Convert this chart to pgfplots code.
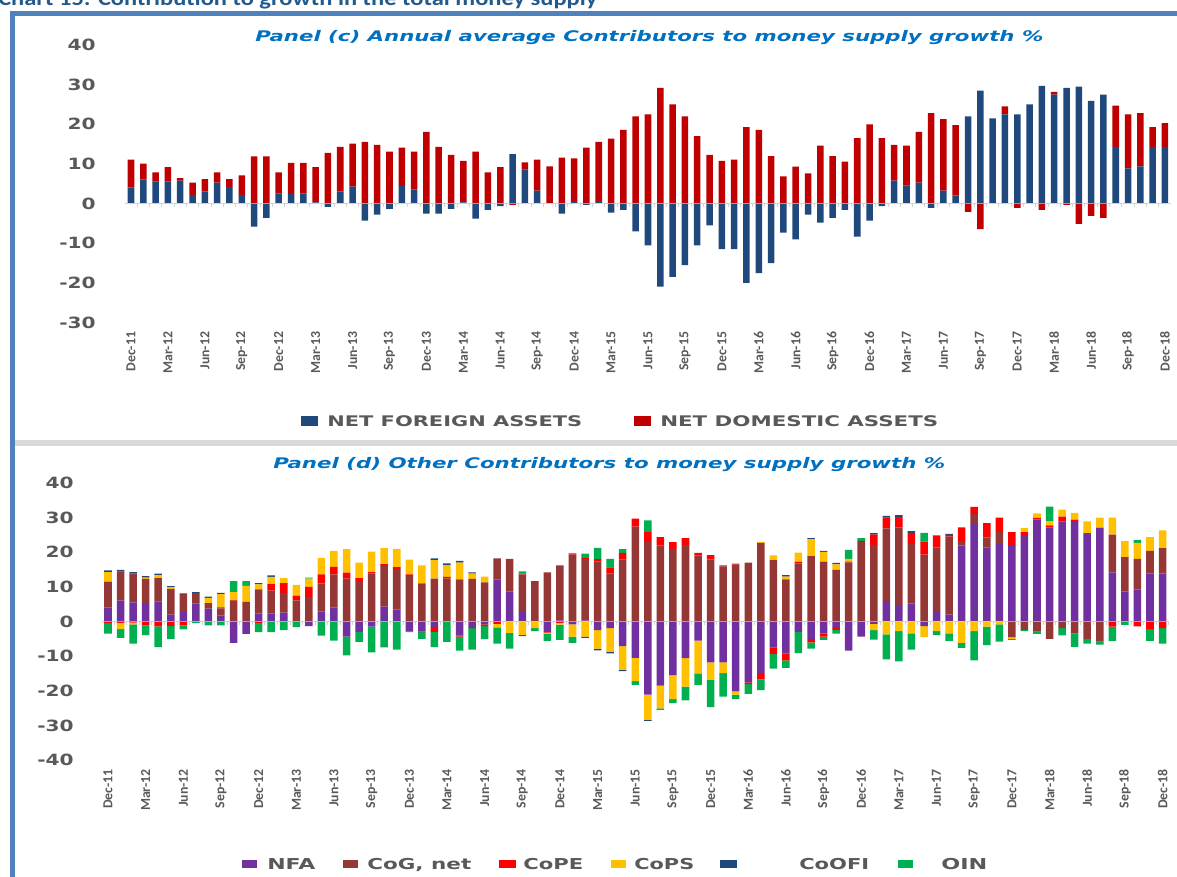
\documentclass[border=0pt]{standalone}
\usepackage{fontspec}
\usepackage{graphicx}
\usepackage{pgfplots}
\pgfplotsset{compat=1.18}
\usepackage{pgfplotstable}
\newfontfamily\dvb{DejaVu Sans}[BoldFont={DejaVu Sans Bold},ItalicFont={DejaVu Sans Oblique},BoldItalicFont={DejaVu Sans Bold Oblique}]
\newfontfamily\crl{Carlito}[BoldFont={Carlito Bold}]
\newlength\px \setlength\px{0.25mm}
\definecolor{cNFA}{RGB}{31,73,125}
\definecolor{cNDA}{RGB}{192,0,0}
\definecolor{dNFA}{RGB}{112,48,160}
\definecolor{dCoG}{RGB}{149,55,53}
\definecolor{dCoPE}{RGB}{255,0,0}
\definecolor{dCoPS}{RGB}{255,192,0}
\definecolor{dCoOFI}{RGB}{31,73,125}
\definecolor{dOIN}{RGB}{0,176,80}
\definecolor{tgray}{RGB}{89,89,89}
\definecolor{ttl}{RGB}{0,112,192}
\definecolor{frameblue}{RGB}{79,129,189}
\definecolor{sepgray}{RGB}{217,217,217}
\definecolor{zlgray}{RGB}{210,210,210}
\definecolor{chartttl}{RGB}{35,90,140}

\pgfplotstableread{
i nfa nda
0 4.1 7.0
1 6.1 4.0
2 5.6 2.3
3 5.6 3.6
4 5.8 0.6
5 2.2 3.1
6 3.1 3.1
7 5.3 2.6
8 4.2 2.0
9 2.2 4.9
10 -5.8 11.9
11 -3.6 11.9
12 2.6 5.3
13 2.4 7.9
14 2.6 7.7
15 0.3 8.9
16 -0.8 12.8
17 3.1 11.2
18 4.3 10.8
19 -4.3 15.6
20 -2.8 14.8
21 -1.3 13.1
22 4.5 9.6
23 3.6 9.5
24 -2.5 18.1
25 -2.5 14.3
26 -1.3 12.3
27 0.3 10.5
28 -3.8 13.1
29 -1.6 7.9
30 -0.6 9.2
31 12.5 -0.3
32 8.6 1.8
33 3.3 7.8
34 0 9.4
35 -2.5 11.6
36 0.6 10.8
37 -0.3 14.1
38 0.6 15.0
39 -2.3 16.4
40 -1.6 18.6
41 -7.0 22.0
42 -10.5 22.5
43 -20.9 29.2
44 -18.5 25.0
45 -15.5 22.0
46 -10.5 17.0
47 -5.5 12.3
48 -11.5 10.8
49 -11.5 11.1
50 -20.0 19.3
51 -17.5 18.6
52 -15.0 12.0
53 -7.3 6.9
54 -9.0 9.3
55 -2.8 7.6
56 -4.8 14.6
57 -3.6 12.0
58 -1.6 10.6
59 -8.3 16.5
60 -4.3 20.0
61 -0.6 16.5
62 5.8 9.0
63 4.6 10.0
64 5.3 12.8
65 -1.1 22.8
66 3.3 18.0
67 2.1 17.7
68 22.0 -2.1
69 28.5 -6.4
70 21.5 0
71 22.5 2.0
72 22.5 -1.1
73 25.0 0
74 29.7 -1.6
75 27.5 0.7
76 29.2 -0.3
77 29.5 -5.1
78 25.9 -3.1
79 27.5 -3.6
80 14.3 10.4
81 8.9 13.6
82 9.4 13.4
83 14.3 5.0
84 14.3 6.0
}\tabc

\pgfplotstableread{
i nfa cog cope cops coofi oin
0 4.0 7.5 -0.5 2.8 0.5 -3.0
1 6.0 8.4 -0.4 -1.8 0.5 -2.5
2 5.5 8.4 -0.3 -0.5 0.4 -5.6
3 5.4 6.9 -1.1 0.4 0.4 -2.8
4 5.8 6.7 -1.4 0.9 0.4 -6.0
5 2.0 7.4 -1.3 0.5 0.3 -3.8
6 2.8 5.1 -1.1 0 0.2 -1.2
7 5.2 3.0 0 0 0.3 -0.5
8 3.7 1.6 0 1.5 0.4 -1.1
9 1.7 2.1 0.3 3.8 0.4 -1.1
10 -6.2 6.0 0.2 2.3 0 3.2
11 -3.6 5.7 0 4.6 0 1.4
12 2.3 7.0 -0.4 1.4 0.4 -2.7
13 2.3 6.6 1.9 2.1 0.4 -3.1
14 2.6 5.7 2.8 1.4 0 -2.5
15 0.2 5.9 1.4 3.1 0 -1.6
16 -1.3 7.1 2.9 2.4 0 0.3
17 2.9 8.1 2.6 4.8 0 -4.1
18 4.1 9.5 2.2 4.6 0 -5.5
19 -4.4 12.4 1.7 6.8 0 -5.4
20 -3.1 11.7 0.8 4.5 0 -2.8
21 -1.5 13.9 0.4 5.9 0 -7.4
22 4.3 11.8 0.5 4.6 0 -7.5
23 3.5 11.6 0.6 5.3 0 -8.1
24 -2.9 13.2 0.4 4.3 0 -0.2
25 -2.9 11.0 -0.2 5.2 0 -1.9
26 -1.6 12.4 -1.4 5.3 0.5 -4.4
27 0 12.4 0.5 3.4 0.5 -5.9
28 -4.1 12.2 -0.3 4.8 0.5 -4.0
29 -1.6 12.3 -0.3 1.5 0.4 -6.2
30 -0.8 11.3 -0.5 1.7 0 -3.8
31 12.2 6.0 -0.7 -1.0 0 -4.7
32 8.6 9.5 0 -3.3 0 -4.5
33 3.1 10.5 0.2 -3.9 -0.3 0.7
34 0 11.7 0 -1.9 0 -0.9
35 -3.0 14.2 -0.2 -0.4 0 -2.0
36 0.3 15.9 -0.4 -0.5 0 -4.4
37 -0.8 19.3 0.4 -3.6 0 -1.8
38 0.3 17.8 0.3 -4.4 -0.3 1.2
39 -2.5 17.3 0.7 -5.3 -0.5 3.3
40 -1.9 13.8 1.8 -6.8 -0.5 2.5
41 -7.1 17.9 1.9 -6.9 -0.3 1.1
42 -10.5 27.4 2.3 -6.7 0 -1.1
43 -21.1 23.0 2.8 -7.3 -0.3 3.4
44 -18.5 21.9 2.5 -6.6 0 -0.4
45 -15.5 21.0 1.9 -6.9 0 -1.2
46 -10.6 22.1 2.0 -8.2 0 -4.0
47 -5.5 19.0 0.8 -9.5 0 -3.3
48 -11.8 17.9 1.3 -5.0 0 -7.9
49 -11.8 15.9 0.3 -3.1 0 -6.8
50 -20.2 16.4 0.3 -0.9 0 -1.3
51 -17.6 17.0 -0.5 0 0 -2.8
52 -15.1 22.7 -1.6 0.3 0 -3.1
53 -7.5 17.7 -1.9 1.4 0 -4.2
54 -9.2 12.2 -2.0 0.8 0.4 -2.2
55 -3.1 16.7 0.6 2.6 0 -6.0
56 -5.0 18.9 -1.0 4.9 0.3 -1.8
57 -3.5 17.3 -0.9 2.8 0.3 -0.9
58 -1.6 14.9 -0.8 1.6 0.4 -1.1
59 -8.4 17.1 0.2 0.8 0 2.6
60 -4.4 23.0 0.3 0 0 0.8
61 -0.7 22.1 3.0 -1.8 0.4 -2.7
62 5.7 21.2 3.1 -3.7 0.5 -7.2
63 4.5 22.7 3.0 -2.8 0.5 -8.7
64 5.2 17.2 3.2 -3.4 0.5 -4.7
65 -1.3 19.3 3.8 -3.2 0 2.5
66 3.1 18.3 3.5 -2.8 0 -1.1
67 2.0 22.5 0.5 -3.4 0.3 -2.2
68 21.9 1.3 4.0 -6.2 0 -1.4
69 28.4 2.6 2.1 -2.8 0 -8.4
70 21.4 2.9 4.1 -1.5 0 -5.3
71 22.4 3.5 4.1 -0.8 0 -5.0
72 22.1 -4.6 3.7 -0.4 0 -0.3
73 24.7 -2.4 1.1 1.2 0 -0.4
74 29.5 -2.9 0.4 1.3 0 -0.7
75 27.2 -5.0 0.6 1.2 0 4.2
76 28.9 -1.9 1.4 2.0 0 -2.1
77 29.1 -3.4 0.3 2.0 0 -3.9
78 25.5 -5.0 0 3.4 0 -1.4
79 27.1 -5.8 0 2.9 0 -0.9
80 14.2 10.9 -1.5 4.9 0 -4.1
81 8.6 10.0 0 4.6 0 -1.0
82 9.2 8.9 -1.4 4.6 0 0.9
83 13.9 6.5 -2.2 4.0 0 -3.4
84 13.9 7.3 -1.9 5.1 0 -4.5
}\tabd

\tikzset{
  zline/.style={draw=zlgray, line width=0.375mm},
  ztick/.style={draw=zlgray, line width=0.25mm},
}
\pgfplotsset{
  base/.style={scale only axis, anchor=north west, xmin=-0.5, xmax=84.5, ybar stacked,
    axis line style={draw=none}, tick style={draw=none}, major tick length=0pt},
  ylab/.style={ytick={-40,-30,...,40},
    yticklabels={-40,-30,-20,-10,0,10,20,30,40},
    yticklabel style={font=\dvb\bfseries\fontsize{11}{13}\selectfont, text=tgray, inner sep=0pt, xshift=#1, xscale=1.3, anchor=east}},
  xlab/.style={xtick={0,3,...,84},
    xticklabels={Dec-11,Mar-12,Jun-12,Sep-12,Dec-12,Mar-13,Jun-13,Sep-13,Dec-13,Mar-14,Jun-14,Sep-14,Dec-14,Mar-15,Jun-15,Sep-15,Dec-15,Mar-16,Jun-16,Sep-16,Dec-16,Mar-17,Jun-17,Sep-17,Dec-17,Mar-18,Jun-18,Sep-18,Dec-18},
    xticklabel style={font=\crl\bfseries\fontsize{9.8}{12}\selectfont, text=tgray, inner sep=0pt, yshift=#1, rotate=90, anchor=east}},
  panc/.style={base, at={(31.21mm,-11.25mm)}, width=261.57mm, height=69.4mm, ymin=-30, ymax=40, bar width=1.63mm},
  pand/.style={base, at={(25.43mm,-120.75mm)}, width=266.77mm, height=69.25mm, ymin=-40, ymax=40, bar width=1.88mm},
}

\begin{document}
\begin{tikzpicture}
\begin{scope}[x=0.25mm,y=-0.25mm]
  \draw[frameblue, line width=1.25mm] (1190,14) -- (12.5,14) -- (12.5,890);
  \fill[sepgray] (15,440) rectangle (1177,446);
  \node[anchor=base west, inner sep=0pt, text=chartttl] at (-2,5.5)
    {\resizebox{599\px}{\height}{\crl\bfseries\fontsize{15}{18}\selectfont Chart 15: Contribution to growth in the total money supply}};
\end{scope}

% Panel (c) positive parts
\begin{axis}[panc, ylab={-7.21mm}, xlab={-2.25mm}]
  \addplot[fill=cNFA, draw=none] table[x=i, y expr={max(\thisrow{nfa},0)}] {\tabc};
  \addplot[fill=cNDA, draw=none] table[x=i, y expr={max(\thisrow{nda},0)}] {\tabc};
\end{axis}
% Panel (c) negative parts
\begin{axis}[panc, hide axis]
  \addplot[fill=cNFA, draw=none] table[x=i, y expr={min(\thisrow{nfa},0)}] {\tabc};
  \addplot[fill=cNDA, draw=none] table[x=i, y expr={min(\thisrow{nda},0)}] {\tabc};
  \draw[zline] (axis cs:-0.5,0) -- (axis cs:84.5,0);
  \pgfplotsinvokeforeach{0,...,85}{\draw[ztick] (axis cs:#1-0.5,0) -- (axis cs:#1-0.5,-0.75);}
\end{axis}

% Panel (d) positive parts
\begin{axis}[pand, ylab={-6.93mm}, xlab={-2.25mm}]
  \addplot[fill=dNFA, draw=none] table[x=i, y expr={max(\thisrow{nfa},0)}] {\tabd};
  \addplot[fill=dCoG, draw=none] table[x=i, y expr={max(\thisrow{cog},0)}] {\tabd};
  \addplot[fill=dCoPE, draw=none] table[x=i, y expr={max(\thisrow{cope},0)}] {\tabd};
  \addplot[fill=dCoPS, draw=none] table[x=i, y expr={max(\thisrow{cops},0)}] {\tabd};
  \addplot[fill=dCoOFI, draw=none] table[x=i, y expr={max(\thisrow{coofi},0)}] {\tabd};
  \addplot[fill=dOIN, draw=none] table[x=i, y expr={max(\thisrow{oin},0)}] {\tabd};
\end{axis}
% Panel (d) negative parts
\begin{axis}[pand, hide axis]
  \addplot[fill=dNFA, draw=none] table[x=i, y expr={min(\thisrow{nfa},0)}] {\tabd};
  \addplot[fill=dCoG, draw=none] table[x=i, y expr={min(\thisrow{cog},0)}] {\tabd};
  \addplot[fill=dCoPE, draw=none] table[x=i, y expr={min(\thisrow{cope},0)}] {\tabd};
  \addplot[fill=dCoPS, draw=none] table[x=i, y expr={min(\thisrow{cops},0)}] {\tabd};
  \addplot[fill=dCoOFI, draw=none] table[x=i, y expr={min(\thisrow{coofi},0)}] {\tabd};
  \addplot[fill=dOIN, draw=none] table[x=i, y expr={min(\thisrow{oin},0)}] {\tabd};
  \draw[zline] (axis cs:-0.5,0) -- (axis cs:84.5,0);
  \pgfplotsinvokeforeach{0,...,85}{\draw[ztick] (axis cs:#1-0.5,0) -- (axis cs:#1-0.5,-1.1);}
\end{axis}

\begin{scope}[x=0.25mm,y=-0.25mm]
  % titles
  \node[anchor=base west, inner sep=0pt, text=ttl] at (255,42)
    {\resizebox{788\px}{\height}{\dvb\bfseries\itshape\fontsize{10.4}{12}\selectfont Panel (c) Annual average Contributors to money supply growth \%}};
  \node[anchor=base west, inner sep=0pt, text=ttl] at (273,468.3)
    {\resizebox{672\px}{\height}{\dvb\bfseries\itshape\fontsize{10.4}{12}\selectfont Panel (d) Other Contributors to money supply growth \%}};
  % legend (c)
  \fill[cNFA] (301,416) rectangle (318,426);
  \node[anchor=base west, inner sep=0pt, text=tgray] at (327,426.4)
    {\resizebox{255\px}{\height}{\dvb\bfseries\fontsize{10.4}{12}\selectfont NET FOREIGN ASSETS}};
  \fill[cNDA] (634,416) rectangle (651,426);
  \node[anchor=base west, inner sep=0pt, text=tgray] at (660,426.4)
    {\resizebox{278\px}{\height}{\dvb\bfseries\fontsize{10.4}{12}\selectfont NET DOMESTIC ASSETS}};
  % legend (d)
  \fill[dNFA] (242,860) rectangle (257,868);
  \node[anchor=base west, inner sep=0pt, text=tgray] at (267,869)
    {\resizebox{48\px}{\height}{\dvb\bfseries\fontsize{10.7}{12}\selectfont NFA}};
  \fill[dCoG] (343,860) rectangle (358,868);
  \node[anchor=base west, inner sep=0pt, text=tgray] at (367,869)
    {\resizebox{104\px}{\height}{\dvb\bfseries\fontsize{10.7}{12}\selectfont CoG, net}};
  \fill[dCoPE] (499,860) rectangle (516,868);
  \node[anchor=base west, inner sep=0pt, text=tgray] at (523,869)
    {\resizebox{60\px}{\height}{\dvb\bfseries\fontsize{10.7}{12}\selectfont CoPE}};
  \fill[dCoPS] (611,860) rectangle (626,868);
  \node[anchor=base west, inner sep=0pt, text=tgray] at (634,869)
    {\resizebox{60\px}{\height}{\dvb\bfseries\fontsize{10.7}{12}\selectfont CoPS}};
  \fill[dCoOFI] (720,860) rectangle (737,868);
  \node[anchor=base west, inner sep=0pt, text=tgray] at (799,869)
    {\resizebox{70\px}{\height}{\dvb\bfseries\fontsize{10.7}{12}\selectfont CoOFI}};
  \fill[dOIN] (898,860) rectangle (913,868);
  \node[anchor=base west, inner sep=0pt, text=tgray] at (941,869)
    {\resizebox{46\px}{\height}{\dvb\bfseries\fontsize{10.7}{12}\selectfont OIN}};
  \pgfresetboundingbox
  \path[use as bounding box] (0,0) rectangle (1177,877);
\end{scope}
\end{tikzpicture}
\end{document}
